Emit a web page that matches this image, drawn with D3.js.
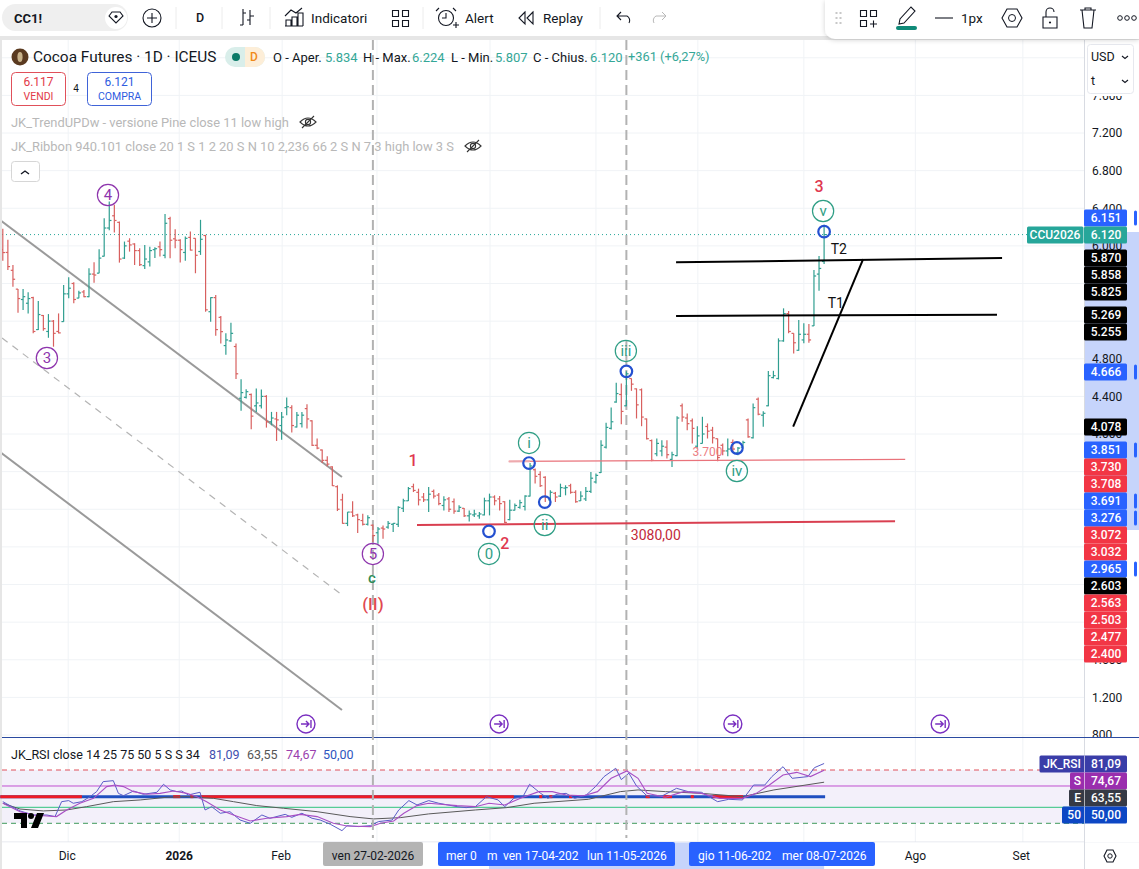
<!DOCTYPE html>
<html>
<head>
<meta charset="utf-8">
<title>Cocoa Futures</title>
<script src="https://cdn.jsdelivr.net/npm/d3@7"></script>
<style>
  html, body { margin: 0; padding: 0; background: #fff; overflow: hidden; }
  text { font-family: Roboto, "Noto Sans", sans-serif; }
</style>
</head>
<body>
<svg id="chart" width="1139" height="869"></svg>
<script>
'use strict';

// daily bars, one entry per session, left to right
var opens = [5960,5930,5740,5540,5430,5390,5450,5110,5260,5090,5200,5090,5195,5490,5600,5445,5510,5460,5700,5710,5890,6190,6320,6250,5870,6050,6020,5950,5790,5830,5960,5990,5900,6290,6075,6060,5930,6090,6080,5940,6110,5300,5450,5240,4940,4990,4930,4380,4390,4420,4300,4300,4400,4130,4160,4090,4280,4280,4075,4110,4270,4140,3880,3830,3720,3650,3440,3300,3050,3170,3140,3080,3040,3030,2950,3000,3010,3040,3040,3210,3290,3440,3380,3330,3300,3390,3350,3240,3310,3280,3180,3210,3130,3140,3130,3140,3290,3330,3310,3280,3090,3190,3220,3230,3340,3620,3570,3540,3300,3370,3340,3425,3450,3380,3290,3310,3390,3490,3590,3860,4060,4340,4420,4300,4590,4480,4470,4160,3930,3790,3820,3860,3730,3770,4300,4170,4140,3870,3900,4080,4040,3950,3880,3820,3910,3800,3860,4150,3960,4370,4200,4300,4600,4590,4990,5280,5070,4890,5000,5060,5150,5700,5834];
var highs = [6181,6064,5797,5542,5542,5506,5460,5414,5265,5275,5212,5282,5584,5666,5613,5524,5531,5762,5826,5964,6294,6472,6436,6259,6046,6081,6028,5975,6010,5992,5985,6046,6340,6310,6177,6071,6100,6152,6081,6277,6117,5453,5478,5255,5070,5184,4963,4583,4477,4430,4484,4473,4413,4235,4235,4235,4388,4306,4235,4235,4317,4146,3951,3834,3763,3657,3454,3365,3170,3284,3152,3152,3135,3039,3011,3028,3074,3053,3231,3312,3436,3472,3419,3373,3436,3409,3373,3338,3330,3313,3242,3213,3188,3196,3171,3323,3366,3348,3341,3284,3302,3260,3302,3348,3691,3632,3604,3551,3401,3384,3472,3455,3472,3401,3391,3437,3597,3579,3934,4119,4282,4545,4537,4666,4591,4484,4484,4165,3941,3952,3934,3934,3810,4190,4324,4218,4165,4083,4183,4112,4076,3952,3899,3952,3941,3863,3927,4165,4324,4388,4243,4669,4672,5017,5336,5308,5070,5212,5177,5169,5744,5893,6224];
var lows = [5843,5744,5566,5290,5318,5282,5070,5105,5098,5023,4928,5070,5194,5442,5389,5442,5453,5453,5609,5709,5886,6165,6142,5822,5861,5939,5797,5787,5755,5780,5870,5886,5868,5868,5975,5822,5843,5950,5709,5904,5300,5194,5045,4963,4843,4981,4584,4246,4377,4050,4235,4270,4068,4093,3926,3940,4200,4015,4068,4068,4058,3873,3838,3692,3657,3447,3181,3046,3021,3117,2947,3028,3028,2851,2833,2886,2993,2957,3011,3170,3287,3383,3241,3277,3170,3313,3242,3188,3171,3153,3171,3118,3071,3118,3100,3135,3135,3242,3188,3053,3082,3188,3206,3188,3335,3473,3437,3276,3260,3277,3330,3348,3366,3270,3288,3288,3373,3473,3586,3845,4048,4332,4104,4296,4459,4165,4083,3941,3710,3764,3764,3739,3650,3764,4129,4040,3899,3845,3899,3952,3899,3710,3774,3764,3810,3774,3856,3959,3952,4200,4076,4296,4591,4580,4981,5070,4857,4885,4964,4971,5148,5524,5807];
var closes = [5929,5780,5645,5440,5460,5440,5090,5270,5120,5200,5070,5075,5490,5550,5430,5500,5460,5700,5690,5870,6190,6270,6270,5860,6000,6010,5950,5800,5860,5950,5970,5960,6240,6060,6060,5960,6080,5955,5900,6070,5320,5450,5110,5088,5000,5070,4640,4440,4450,4190,4330,4400,4130,4170,4150,4180,4290,4090,4200,4200,4160,3880,3850,3720,3680,3450,3200,3050,3170,3130,3090,3040,3110,2920,2990,2990,3050,3050,3220,3290,3420,3400,3300,3300,3360,3340,3260,3300,3200,3180,3220,3130,3150,3150,3150,3290,3330,3290,3260,3060,3190,3240,3270,3340,3660,3550,3450,3330,3380,3330,3430,3430,3380,3280,3340,3390,3530,3560,3880,4070,4130,4430,4240,4640,4530,4310,4180,3950,3720,3900,3870,3780,3780,4170,4180,4110,4060,3980,4000,4030,3960,3750,3820,3840,3840,3850,3910,3970,4280,4210,4220,4620,4620,4990,5280,5090,4970,5060,5060,5000,5680,5760,6120];

// axis ticks, the scale labels only show where the flags leave room
var priceGrid = [800,1200,1600,2000,2400,2800,3200,3600,4000,4400,4800,5200,5600,6000,6400,6800,7200,7600,8000];
var priceTicks = [800,1200,1600,4000,4400,4800,6000,6400,6800,7200,7600];
var timeGridBars = [12.9,34.8,55.1,73.8,96.1,117,137.1,158,180,201.2];
var timeLabels = ['Dic','2026','Feb','Ago','Set'];
var timeLabelBars = [12.7,34.8,54.9,180,200.9];
var lastClose = 6120;

// hand drawn lines, as [bar, price, bar, price]
var channelLines = [[-0.55,6275,66.9,3543],[-0.55,3809,66.9,1066]];
var channelDashed = [-0.15,5021,66.9,2289];
var targetLines = [[132.8,5825,197.1,5870],[132.8,5255,196.1,5269],[155.9,4078,169.7,5858]];
var pinkLine = [99.8,3708,178,3730];
var pinkStart = [99.8,3708,104,3709];
var redLine = [81.7,3032,176,3072];
var eventBars = [73,123];

// elliott labels
var purpleLabels = ['3','4','5'];
var purpleBars = [8.7,20.75,73];
var purplePrices = [4808,6541,2725];
var minorLabels = ['0','i','ii','iii','iv','v'];
var minorBars = [95.9,103.8,106.9,122.9,144.8,161.8];
var minorPrices = [2725,3905,3033,4883,3607,6371];
var pivotBars = [95.9,103.8,106.9,123,144.8,162];
var pivotPrices = [2965,3691,3276,4666,3851,6151];
var redWaveLabels = ['1','2','3'];
var redWaveBars = [80.9,99,161];
var redWavePrices = [3724,2842,6637];
var jumpBars = [59.8,97.9,144,184.9];

// price scale flags
var flagValues = ['6.151','6.120','5.870','5.858','5.825','5.269','5.255','4.666','4.078','3.851','3.730','3.708','3.691','3.276','3.072','3.032','2.965','2.603','2.563','2.503','2.477','2.400'];
var flagKinds = ['b','t','k','k','k','k','k','b','k','b','r','r','b','b','r','r','b','k','r','r','r','r'];

// RSI pane, read at turning points as bar / value pairs
var rsiBars = [0,1.4,3.4,6,8.7,10.3,11.6,13,13.9,15.6,17.2,18.5,19.8,21.8,22.8,23.8,25.8,27.7,30.4,31.7,33,34.3,35.3,36.6,38.9,39.9,41.2,42.9,44.8,46.8,48.8,51.1,52.7,55.7,57,59,61,62.6,64.6,66.9,67.9,70.2,72.5,74.1,76.8,78.1,80.1,81.7,84,86,87.8,89.6,91.4,93.2,95.4,97.7,99,100.8,102.6,103.9,106.1,107.5,109.3,111.1,112.8,115.1,116.9,118.6,120.9,122,123.5,125,127.1,129.8,132.9,135.2,137.8,141,143.2,145.9,148.1,150.3,151.7,153.9,155.7,158.8,160.1,162];
var rsiValues = [45.3,41.6,36.6,32.8,32.8,31.3,45.3,46.3,43.8,45.3,50,54.7,64.1,65,53.1,50.9,55.3,52.2,54.1,61.6,56.3,54.7,55.3,51.6,54.1,37.5,40.6,34.4,35.9,28.1,25,32.8,29.7,33.4,30.6,34.4,29.7,28.1,24.1,18.1,22.8,21.9,22.8,26.6,28.1,37.5,46.3,42.2,46.3,43.8,42.2,40.6,39.7,40.6,50,46.9,40.6,48.4,50,61.6,53.1,48.4,52.2,53.1,48.4,51.6,59.4,68.8,76.6,66,72,60,50.6,50,57.8,54.7,54.1,45.3,47.5,46.9,60.9,60.9,68.8,78.1,67.2,68.8,77.2,81.09];
var smoothBars = [0,3.4,6,8.7,10.6,12.6,15.2,17.9,20.5,22.1,23.8,25.8,28.4,31,33.7,36.3,38.3,40.2,42.9,45.5,48.8,52.1,56,58.7,62,65.2,67.9,72.5,74.5,77.1,79.1,81.7,84,89.6,93.2,95.9,99,102.1,105.7,108.4,111.1,114.6,117.3,120,123.1,125.3,127.1,130.7,134.3,137.8,141.4,145.9,148.6,151.2,153.9,156.6,159.3,162];
var smoothValues = [43.8,35.9,32.8,31.9,31.3,37.5,43.8,48.4,59.4,60.9,59.4,54.7,52.2,53.1,55.3,53.1,50,45.3,37.5,32.8,27.2,29.7,31.3,33.4,31.3,25,22.5,21.9,25,27.2,34.4,41.6,43.8,41.6,40.6,43.8,42.2,48.4,54.7,54.7,51.6,50.9,54.7,67.2,74.1,67.2,53.1,49.4,54.7,53.1,48.4,48.4,53.1,60.9,70.3,72.8,68.8,74.67];
var emaBars = [0,3.4,8,12.6,16.5,21.8,27.1,32.3,36.3,41.6,45.5,50.1,55.4,62,68.5,73.1,78.4,84,93.2,99.4,104.8,115.5,121.8,125.3,130.7,137.8,145.9,152.1,162];
var emaValues = [43.8,38.4,36.6,37.5,40.6,45.3,46.9,49.4,50,48.4,45.3,41.6,39.1,35.9,31.3,29.1,30.3,33.8,37.5,39.7,43.8,47.5,54.7,56.3,54.7,53.1,50,56.3,63.55];
var midRedRanges = [[-0.5,15.6],[33.6,35],[37,37.6],[39,100.8],[105.8,106.4],[107.8,108.4],[111.7,112.3],[126.8,127.6],[130.2,132],[135.7,136.3],[140,146]];
var rsiFlagNames = ['JK_RSI','S','E','50'];
var rsiFlagValues = ['81,09','74,67','63,55','50,00'];

// text of the legend
var legendTrend = 'JK_TrendUPDw - versione Pine close 11 low high';
var legendRibbon = 'JK_Ribbon 940.101 close 20 1 S 1 2 20 S N 10 2,236 66 2 S N 7 3 high low 3 S';
var ohlcNames = ['O - Aper.','H - Max.','L - Min.','C - Chius.'];
var ohlcValues = ['5.834','6.224','5.807','6.120'];

// colours
var teal = '#2f9e90', red = '#d8605f', flagTeal = '#26a69a';
var dark = '#131722', grid = '#f0f3f6', blue = '#2962ff', paleBlue = '#c6d4fb';
var flagColors = { b: blue, t: flagTeal, k: '#000000', r: '#f23645' };

// layout
var W = 1139, H = 869, axisX = 1084, paneTop = 40, paneBottom = 737, timeTop = 842;
var flagY = [218,235,258,275,292,315,332,372,427,450,467,484,501,518,535,552,569,586,603,620,637,654];
var flagH = 17;

var x = d3.scaleLinear().domain([0, 162]).range([2.8, 824.1]);
var y = d3.scaleLinear().domain([800, 7200]).range([735, 133]);
var yRsi = d3.scaleLinear().domain([25, 75]).range([823.3, 770]);

var svg = d3.select('#chart');
var defs = svg.append('defs');
defs.append('clipPath').attr('id', 'mainClip').append('rect').attr('x', 2).attr('y', paneTop).attr('width', axisX - 2).attr('height', paneBottom - paneTop);

function label(g, txt, px, py, size, fill, anchor, weight) {
  return g.append('text').attr('x', px).attr('y', py).attr('dy', '0.35em')
    .attr('font-size', size).attr('fill', fill)
    .attr('text-anchor', anchor || 'start').attr('font-weight', weight || 400).text(txt);
}

function drawSeg(g, s, color, width, dash) {
  return g.append('line').attr('x1', x(s[0])).attr('y1', y(s[1])).attr('x2', x(s[2])).attr('y2', y(s[3]))
    .attr('stroke', color).attr('stroke-width', width).attr('stroke-dasharray', dash || null);
}

function icon(g, d, sw) {
  return g.append('path').attr('d', d).attr('fill', 'none').attr('stroke', dark).attr('stroke-width', sw || 1.1);
}

// page background
svg.append('rect').attr('width', W).attr('height', H).attr('fill', '#fff');
svg.append('rect').attr('y', 36).attr('width', W).attr('height', 4).attr('fill', '#e6e6e6');
svg.append('rect').attr('y', 36).attr('width', 2).attr('height', H - 36).attr('fill', '#e6e6e6');

// grid
var gridG = svg.append('g');
gridG.selectAll('line.h').data(priceGrid).enter().append('line').attr('class', 'h')
  .attr('x1', 2).attr('x2', axisX).attr('y1', function (d) { return y(d); }).attr('y2', function (d) { return y(d); })
  .attr('stroke', grid);
gridG.selectAll('line.v').data(timeGridBars).enter().append('line').attr('class', 'v')
  .attr('y1', paneTop).attr('y2', timeTop).attr('x1', function (d) { return x(d); }).attr('x2', function (d) { return x(d); })
  .attr('stroke', grid);

// rsi pane
var rsiG = svg.append('g');
rsiG.append('rect').attr('x', 2).attr('width', axisX - 2).attr('y', yRsi(75)).attr('height', yRsi(25) - yRsi(75)).attr('fill', '#f3f0fa');
rsiG.append('line').attr('x1', 2).attr('x2', axisX).attr('y1', yRsi(75)).attr('y2', yRsi(75)).attr('stroke', '#e0505a').attr('stroke-dasharray', '5 4');
rsiG.append('line').attr('x1', 2).attr('x2', axisX).attr('y1', yRsi(25)).attr('y2', yRsi(25)).attr('stroke', '#3f9a5c').attr('stroke-dasharray', '5 4');
rsiG.append('line').attr('x1', 2).attr('x2', axisX).attr('y1', yRsi(60)).attr('y2', yRsi(60)).attr('stroke', '#c04fd0');
rsiG.append('line').attr('x1', 2).attr('x2', axisX).attr('y1', yRsi(40)).attr('y2', yRsi(40)).attr('stroke', '#2fc47e');
rsiG.append('line').attr('x1', x(-0.5)).attr('x2', x(162.2)).attr('y1', yRsi(50)).attr('y2', yRsi(50)).attr('stroke', '#1f4fc0').attr('stroke-width', 3);
rsiG.selectAll('line.mid').data(midRedRanges).enter().append('line').attr('class', 'mid')
  .attr('x1', function (d) { return x(d[0]); }).attr('x2', function (d) { return x(d[1]); })
  .attr('y1', yRsi(50)).attr('y2', yRsi(50)).attr('stroke', '#ee1c25').attr('stroke-width', 3);

function rsiPath(bars, values, color, width) {
  var line = d3.line().x(function (d) { return x(d); }).y(function (d, i) { return yRsi(values[i]); });
  rsiG.append('path').attr('d', line(bars)).attr('fill', 'none').attr('stroke', color).attr('stroke-width', width);
}
rsiPath(emaBars, emaValues, '#5a5a5a', 1);
rsiPath(rsiBars, rsiValues, '#5a5cc8', 1);
rsiPath(smoothBars, smoothValues, '#a84fc4', 1.1);

// tradingview mark
var tv = rsiG.append('g').attr('fill', '#000');
tv.append('path').attr('d', 'M14 813h13v15h-6v-9h-7z');
tv.append('circle').attr('cx', 31).attr('cy', 816).attr('r', 3);
tv.append('path').attr('d', 'M37 813h7l-6 15h-7z');

svg.append('line').attr('x1', 2).attr('x2', W).attr('y1', paneBottom + 0.5).attr('y2', paneBottom + 0.5).attr('stroke', '#2a4aa0');
svg.append('line').attr('x1', 2).attr('x2', W).attr('y1', timeTop).attr('y2', timeTop).attr('stroke', '#e0e3eb');

// event lines run through both panes
svg.selectAll('line.event').data(eventBars).enter().append('line').attr('class', 'event')
  .attr('x1', function (d) { return x(d); }).attr('x2', function (d) { return x(d); })
  .attr('y1', paneTop).attr('y2', timeTop - 4)
  .attr('stroke', '#b2b2b2').attr('stroke-width', 2).attr('stroke-dasharray', '10 5');

var main = svg.append('g').attr('clip-path', 'url(#mainClip)');

// last price line
main.append('line').attr('x1', 2).attr('x2', 1027).attr('y1', y(lastClose)).attr('y2', y(lastClose))
  .attr('stroke', flagTeal).attr('stroke-width', 1).attr('stroke-dasharray', '1 3');

// channel
channelLines.forEach(function (s) { drawSeg(main, s, '#9a9a9a', 2); });
drawSeg(main, channelDashed, '#b4b4b4', 1.2, '7 6');

// ohlc bars
var bars = main.append('g').selectAll('g').data(d3.range(opens.length)).enter().append('g')
  .attr('stroke', function (i) { return closes[i] >= opens[i] ? teal : red; })
  .attr('stroke-width', 1.2);
bars.append('line')
  .attr('x1', function (i) { return x(i); }).attr('x2', function (i) { return x(i); })
  .attr('y1', function (i) { return y(highs[i]); }).attr('y2', function (i) { return y(lows[i]); });
bars.append('line')
  .attr('x1', function (i) { return x(i) - 2.2; }).attr('x2', function (i) { return x(i); })
  .attr('y1', function (i) { return y(opens[i]); }).attr('y2', function (i) { return y(opens[i]); });
bars.append('line')
  .attr('x1', function (i) { return x(i); }).attr('x2', function (i) { return x(i) + 2.2; })
  .attr('y1', function (i) { return y(closes[i]); }).attr('y2', function (i) { return y(closes[i]); });

// drawings on top of the bars
drawSeg(main, redLine, '#d93f50', 2);
drawSeg(main, pinkLine, '#e9737b', 1.3);
drawSeg(main, pinkStart, '#eeaaae', 2);
targetLines.forEach(function (s) { drawSeg(main, s, '#000', 2); });

main.selectAll('circle.pivot').data(pivotBars).enter().append('circle').attr('class', 'pivot')
  .attr('cx', function (d) { return x(d); }).attr('cy', function (d, i) { return y(pivotPrices[i]); })
  .attr('r', 5.8).attr('fill', 'none').attr('stroke', '#2450d0').attr('stroke-width', 2.2);

function circled(txt, b, p, color, size) {
  main.append('circle').attr('cx', x(b)).attr('cy', y(p)).attr('r', 10.6).attr('fill', 'none').attr('stroke', color).attr('stroke-width', 1.2);
  label(main, txt, x(b), y(p), size, color, 'middle');
}
purpleLabels.forEach(function (t, i) { circled(t, purpleBars[i], purplePrices[i], '#8e35ad', 15); });
minorLabels.forEach(function (t, i) { circled(t, minorBars[i], minorPrices[i], '#2f9e85', 15); });
redWaveLabels.forEach(function (t, i) { label(main, t, x(redWaveBars[i]), y(redWavePrices[i]), 16, '#e0384f', 'middle', 500); });
label(main, 'c', x(72.8), y(2470), 15, '#2e8b57', 'middle', 500);
label(main, '(II)', x(73), y(2193), 17, '#e0484f', 'middle', 500);
label(main, '3080,00', x(128.8), y(2927), 14, '#c2283a', 'middle');
label(main, '3.700', x(139), y(3809), 12, '#ec7d84', 'middle');
label(main, 'T1', x(164.3), y(5393), 14, '#111', 'middle');
label(main, 'T2', x(164.9), y(5967), 14, '#111', 'middle');

// jump to bar markers
jumpBars.forEach(function (b) {
  var g = main.append('g').attr('transform', 'translate(' + x(b) + ',724)').attr('fill', 'none').attr('stroke', '#7a2fc0').attr('stroke-width', 1.4);
  g.append('circle').attr('r', 9);
  g.append('path').attr('d', 'M-5 0h8M0 -3l3 3l-3 3M5 -4v8');
});

// legend
var legend = svg.append('g');
legend.append('circle').attr('cx', 20).attr('cy', 57).attr('r', 8.5).attr('fill', '#5a3a20');
legend.append('ellipse').attr('cx', 20).attr('cy', 57).attr('rx', 2.6).attr('ry', 5).attr('fill', '#c8b28a');
label(legend, 'Cocoa Futures · 1D · ICEUS', 33, 57, 15.4, dark);
legend.append('rect').attr('x', 225).attr('y', 47).attr('width', 40).attr('height', 20).attr('rx', 10).attr('fill', '#d9eeea');
legend.append('path').attr('d', 'M245 47h10a10 10 0 0 1 0 20h-10z').attr('fill', '#fdeed8');
legend.append('circle').attr('cx', 236).attr('cy', 57).attr('r', 4).attr('fill', '#0b7a68');
label(legend, 'D', 254, 57, 12, '#f08a18', 'middle', 500);
var nameX = [273, 363, 451, 533], valueX = [325, 412, 495, 590];
ohlcNames.forEach(function (n, i) {
  label(legend, n, nameX[i], 57, 13, dark);
  label(legend, ohlcValues[i], valueX[i], 57, 13, '#35a797');
});
label(legend, '+361 (+6,27%)', 628, 57, 12.8, '#35a797');

legend.append('rect').attr('x', 11.5).attr('y', 72.5).attr('width', 54).attr('height', 33).attr('rx', 4).attr('fill', '#fff').attr('stroke', '#e0505a');
label(legend, '6.117', 38.5, 82, 12, '#e23a48', 'middle');
label(legend, 'VENDI', 38.5, 96, 10.5, '#e23a48', 'middle');
label(legend, '4', 76, 88, 10, dark, 'middle');
legend.append('rect').attr('x', 87.5).attr('y', 72.5).attr('width', 64).attr('height', 33).attr('rx', 4).attr('fill', '#fff').attr('stroke', '#3f63d8');
label(legend, '6.121', 119.5, 82, 12, '#2f5ce0', 'middle');
label(legend, 'COMPRA', 119.5, 96, 10.5, '#2f5ce0', 'middle');
label(legend, legendTrend, 11, 122, 12.9, '#b8b8b8');
label(legend, legendRibbon, 11, 146, 12.9, '#b8b8b8');

function eye(g, cx, cy) {
  var e = g.append('g').attr('transform', 'translate(' + cx + ',' + cy + ')').attr('fill', 'none').attr('stroke', '#333').attr('stroke-width', 1.1);
  e.append('path').attr('d', 'M-8 0q8 -8 16 0q-8 8 -16 0z');
  e.append('circle').attr('r', 2.6);
  e.append('path').attr('d', 'M-6 6L6 -6');
}
eye(legend, 308, 122);
eye(legend, 473, 146);
legend.append('rect').attr('x', 11.5).attr('y', 161.5).attr('width', 28).attr('height', 20).attr('rx', 3).attr('fill', '#fff').attr('stroke', '#d6d6d6');
icon(legend, 'M21 174l4 -3l4 3', 1.4);

// rsi legend
var rsiLegend = svg.append('g');
label(rsiLegend, 'JK_RSI close 14 25 75 50 5 S S 34', 11, 755, 12.5, dark);
label(rsiLegend, '81,09', 209, 755, 12.5, '#3f4fb0');
label(rsiLegend, '63,55', 247, 755, 12.5, '#555');
label(rsiLegend, '74,67', 286, 755, 12.5, '#9b3fae');
label(rsiLegend, '50,00', 323, 755, 12.5, '#2f55c0');

// price scale
var scaleG = svg.append('g');
scaleG.append('rect').attr('x', axisX).attr('y', paneTop).attr('width', W - axisX).attr('height', timeTop - paneTop).attr('fill', '#fff');
scaleG.append('rect').attr('x', axisX).attr('y', 232).attr('width', W - axisX).attr('height', 298).attr('fill', paleBlue);
scaleG.append('line').attr('x1', axisX + 0.5).attr('x2', axisX + 0.5).attr('y1', paneTop).attr('y2', H).attr('stroke', '#d8dbe2');

var yAxis = d3.axisRight(y).tickValues(priceTicks).tickSize(0).tickPadding(8)
  .tickFormat(function (d) { return d >= 1000 ? d3.format('.3f')(d / 1000) : String(d); });
scaleG.append('g').attr('transform', 'translate(' + axisX + ',0)').call(yAxis)
  .call(function (g) { g.select('.domain').remove(); })
  .selectAll('text').attr('font-size', 12).attr('font-family', 'Roboto').attr('fill', dark);

// the rsi pane starts under the main scale and cuts its last tick
scaleG.append('rect').attr('x', axisX + 1).attr('y', paneBottom + 1).attr('width', W - axisX - 1).attr('height', timeTop - paneBottom - 1).attr('fill', '#fff');
scaleG.append('line').attr('x1', axisX).attr('x2', W).attr('y1', paneBottom + 0.5).attr('y2', paneBottom + 0.5).attr('stroke', '#2a4aa0');

scaleG.selectAll('rect.flag').data(flagValues).enter().append('rect').attr('class', 'flag')
  .attr('x', axisX).attr('width', 43).attr('rx', 1.5)
  .attr('y', function (d, i) { return flagY[i] - flagH / 2; }).attr('height', flagH)
  .attr('fill', function (d, i) { return flagColors[flagKinds[i]]; });
flagValues.forEach(function (v, i) {
  label(scaleG, v, axisX + 22, flagY[i], 12, '#fff', 'middle', 500);
  if (flagKinds[i] === 'b') {
    scaleG.append('rect').attr('x', 1134).attr('y', flagY[i] - 7.5).attr('width', 3).attr('height', 15).attr('rx', 1.5).attr('fill', blue);
  }
});
scaleG.append('rect').attr('x', 1027).attr('y', 226.5).attr('width', 56.5).attr('height', 17).attr('rx', 1.5).attr('fill', flagTeal);
label(scaleG, 'CCU2026', 1055, 235, 12, '#fff', 'middle', 500);

// pane flags of the rsi
var rsiFlagX = [1039.5, 1070, 1069, 1062];
var rsiFlagColors = ['#3a3da8', '#9a2eae', '#363a45', '#0d47c4'];
var rsiFlagY = [764, 781, 798, 815];
rsiFlagNames.forEach(function (n, i) {
  scaleG.append('rect').attr('x', rsiFlagX[i]).attr('y', rsiFlagY[i] - 8.5).attr('width', 1127 - rsiFlagX[i]).attr('height', flagH).attr('rx', 1.5).attr('fill', rsiFlagColors[i]);
  scaleG.append('line').attr('x1', axisX + 0.5).attr('x2', axisX + 0.5).attr('y1', rsiFlagY[i] - 8.5).attr('y2', rsiFlagY[i] + 8.5).attr('stroke', '#fff').attr('stroke-opacity', 0.6);
  label(scaleG, n, axisX - 3, rsiFlagY[i], 12, '#fff', 'end', 500);
  label(scaleG, rsiFlagValues[i], axisX + 22, rsiFlagY[i], 12, '#fff', 'middle', 500);
});

// currency box
scaleG.append('rect').attr('x', axisX + 1).attr('y', paneTop).attr('width', W - axisX - 1).attr('height', 56).attr('fill', '#fff');
scaleG.append('rect').attr('x', 1087.5).attr('y', 44.5).attr('width', 46).attr('height', 49).attr('rx', 3).attr('fill', '#fff').attr('stroke', '#e6e8ee');
label(scaleG, 'USD', 1091, 57, 12.5, dark);
label(scaleG, 't', 1091, 81, 12.5, dark);
icon(scaleG, 'M1122 56l3 2.5l3 -2.5');
icon(scaleG, 'M1122 80l3 2.5l3 -2.5');

// time axis
var timeG = svg.append('g');
timeG.append('rect').attr('x', 2).attr('y', timeTop + 0.5).attr('width', W).attr('height', H - timeTop).attr('fill', '#fff');
timeG.append('rect').attr('x', x(95.9)).attr('y', timeTop + 0.5).attr('width', x(162) - x(95.9)).attr('height', H - timeTop).attr('fill', paleBlue);
timeG.append('line').attr('x1', axisX + 0.5).attr('x2', axisX + 0.5).attr('y1', timeTop).attr('y2', H).attr('stroke', '#d8dbe2');
timeLabels.forEach(function (t, i) {
  label(timeG, t, x(timeLabelBars[i]), 856, 12, dark, 'middle', t === '2026' ? 700 : 400);
});
timeG.append('rect').attr('x', 323).attr('y', 842).attr('width', 100).attr('height', 24).attr('rx', 2).attr('fill', '#b4b4b4');
label(timeG, 'ven 27-02-2026', 373, 856, 12, dark, 'middle');
timeG.append('rect').attr('x', 438).attr('y', 842).attr('width', 237).attr('height', 24).attr('rx', 2).attr('fill', blue);
timeG.append('rect').attr('x', 689).attr('y', 842).attr('width', 186).attr('height', 24).attr('rx', 2).attr('fill', blue);
label(timeG, 'mer 0', 446, 856, 12, '#fff');
label(timeG, 'm', 487, 856, 12, '#fff');
label(timeG, 'ven 17-04-202', 503, 856, 12, '#fff');
label(timeG, 'lun 11-05-2026', 587, 856, 12, '#fff');
label(timeG, 'gio 11-06-202', 698, 856, 12, '#fff');
label(timeG, 'mer 08-07-2026', 782, 856, 12, '#fff');
icon(timeG, 'M1104 856l3 -6h6l3 6l-3 6h-6z');
timeG.append('circle').attr('cx', 1110).attr('cy', 856).attr('r', 2.2).attr('fill', 'none').attr('stroke', dark);

// top toolbar
var bar = svg.append('g');
bar.append('rect').attr('width', W).attr('height', 36).attr('fill', '#fff');
bar.append('rect').attr('x', 2).attr('y', 4).attr('width', 126).attr('height', 27).attr('rx', 13.5).attr('fill', '#efefef');
label(bar, 'CC1!', 14, 18, 13, dark, 'start', 700);
bar.append('circle').attr('cx', 116).attr('cy', 18).attr('r', 11).attr('fill', '#fff');
icon(bar, 'M109 16l3 -4h8l3 4l-7 7z');
bar.append('circle').attr('cx', 116).attr('cy', 16.5).attr('r', 1.6).attr('fill', dark);
bar.append('circle').attr('cx', 152).attr('cy', 18).attr('r', 9).attr('fill', 'none').attr('stroke', dark).attr('stroke-width', 1.1);
icon(bar, 'M147 18h10M152 13v10');
[176, 222, 270, 423, 600].forEach(function (sx) {
  bar.append('line').attr('x1', sx).attr('x2', sx).attr('y1', 7).attr('y2', 29).attr('stroke', '#ececec');
});
label(bar, 'D', 200, 18, 12.5, dark, 'middle', 500);
icon(bar, 'M243 9v16M240 25h3M243 13h3M250 10v15M247 20h3M250 16h4');
icon(bar, 'M286 26v-6h5v6M292 26v-9h5v9M298 26v-13h5v13M285 26h18M285 16l6 -6l5 3l6 -5');
label(bar, 'Indicatori', 311, 18, 13.5, dark);
icon(bar, 'M392.500 10.500h6v6h-6zM402.500 10.500h6v6h-6zM392.500 20.500h6v6h-6zM402.500 20.500h6v6h-6z');
bar.append('circle').attr('cx', 446).attr('cy', 18).attr('r', 7.5).attr('fill', 'none').attr('stroke', dark).attr('stroke-width', 1.1);
icon(bar, 'M446 13v5h-4M439 8l-3 3M453 8l3 3M453 25h6M456 22v6');
label(bar, 'Alert', 465, 18, 13.5, dark);
icon(bar, 'M525 12l-6 6l6 6zM533 12l-6 6l6 6z');
label(bar, 'Replay', 543, 18, 13.5, dark);
icon(bar, 'M617 16h10a5 5 0 0 1 2 7M621 12l-4 4l4 4');
bar.append('path').attr('d', 'M666 16h-10a5 5 0 0 0 -2 7M662 12l4 4l-4 4').attr('fill', 'none').attr('stroke', '#b8b8b8');

// drawing toolbar, floats over the chart
var shadow = defs.append('filter').attr('id', 'soft').attr('x', '-10%').attr('y', '-30%').attr('width', '120%').attr('height', '170%');
shadow.append('feDropShadow').attr('dx', 0).attr('dy', 1).attr('stdDeviation', 2.5).attr('flood-color', '#000').attr('flood-opacity', 0.18);
var tools = svg.append('g');
tools.append('path').attr('d', 'M825 0H1139V39H835a10 10 0 0 1 -10 -10z').attr('fill', '#fff').attr('filter', 'url(#soft)');
d3.range(3).forEach(function (r) {
  [835.5, 839.5].forEach(function (dx) {
    tools.append('rect').attr('x', dx).attr('y', 12 + r * 5).attr('width', 2).attr('height', 2).attr('fill', '#c8c8c8');
  });
});
icon(tools, 'M860.500 10.500h6v6h-6zM870.500 10.500h6v6h-6zM860.500 20.500h6v6h-6zM870 24h7M873.500 20.500v7');
icon(tools, 'M899 24l1 -5l11 -12l4 4l-11 12z');
tools.append('rect').attr('x', 896).attr('y', 26).attr('width', 21).attr('height', 4).attr('rx', 2).attr('fill', '#0f8a78');
icon(tools, 'M935 18h18');
label(tools, '1px', 961, 18, 13.5, dark);
icon(tools, 'M1002 18l5 -9h10l5 9l-5 9h-10z');
tools.append('circle').attr('cx', 1012).attr('cy', 18).attr('r', 3.5).attr('fill', 'none').attr('stroke', dark);
icon(tools, 'M1043 17h14v11h-14zM1046 17v-5a4 4 0 0 1 8 0');
tools.append('circle').attr('cx', 1050).attr('cy', 22.5).attr('r', 1.1).attr('fill', dark);
icon(tools, 'M1080 10h16M1085 10v-2h6v2M1082 10l2 18h8l2 -18');
[1120, 1127, 1134].forEach(function (dx) {
  tools.append('circle').attr('cx', dx).attr('cy', 18).attr('r', 2.3).attr('fill', 'none').attr('stroke', dark);
});
</script>
</body>
</html>
